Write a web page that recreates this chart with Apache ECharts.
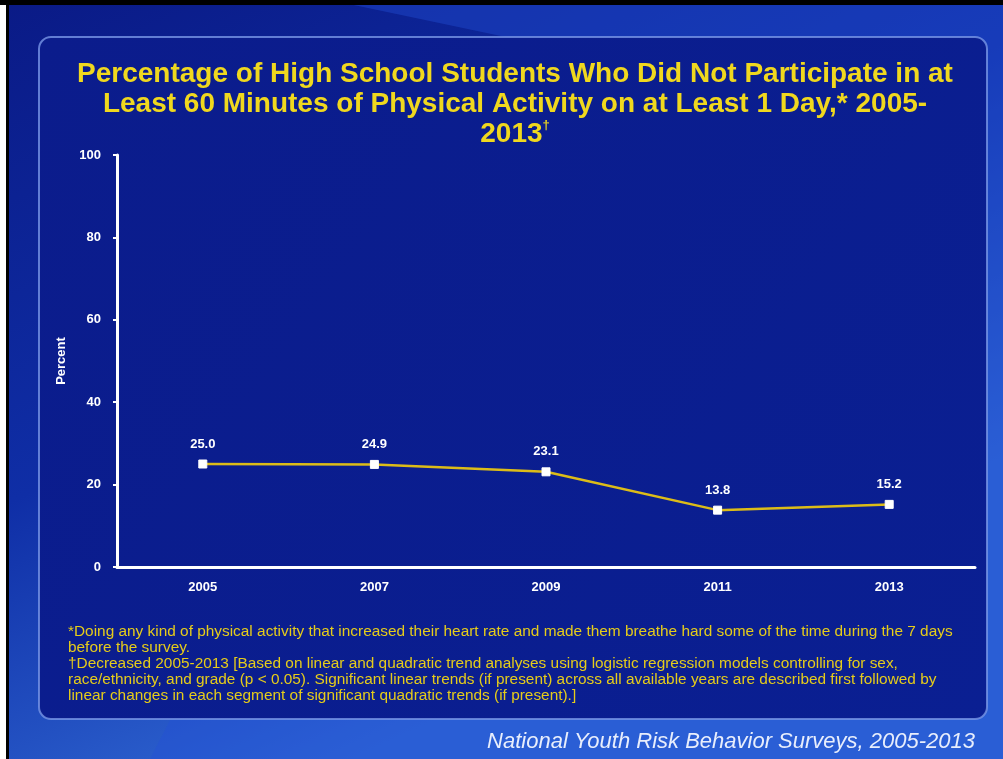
<!DOCTYPE html>
<html><head><meta charset="utf-8">
<script src="https://cdn.jsdelivr.net/npm/echarts@6/dist/echarts.min.js"></script>
<style>html,body{margin:0;padding:0;background:#fff}#c{width:1003px;height:759px}</style>
</head><body><div id="c"></div>
<script>
const years = ['2005', '2007', '2009', '2011', '2013'];
const percent = [25.0, 24.9, 23.1, 13.8, 15.2];
const yTicks = [0, 20, 40, 60, 80, 100];
const titleLines = ['Percentage of High School Students Who Did Not Participate in at', 'Least 60 Minutes of Physical Activity on at Least 1 Day,* 2005-'];
const titleLast = '2013';
const footnotes = [
  '*Doing any kind of physical activity that increased their heart rate and made them breathe hard some of the time during the 7 days',
  'before the survey.',
  '\u2020Decreased 2005-2013 [Based on linear and quadratic trend analyses using logistic regression models controlling for sex,',
  'race/ethnicity, and grade (p < 0.05). Significant linear trends (if present) across all available years are described first followed by',
  'linear changes in each segment of significant quadratic trends (if present).]'
];
const source = 'National Youth Risk Behavior Surveys, 2005-2013';

const chart = echarts.init(document.getElementById('c'));
const FONT = '"Liberation Sans", Arial, sans-serif';
const footY = [624, 640, 656, 672, 688];
const TITLE_C = '#f0d81e';
const graphics = [
  { type: 'rect', z: -10, shape: { x: 0, y: 0, width: 1003, height: 759 },
    style: { fill: new echarts.graphic.LinearGradient(0, 0, 0.35, 1, [
      { offset: 0, color: '#0a1a86' }, { offset: 0.55, color: '#0f2ea6' }, { offset: 1, color: '#3068d4' }]) } },
  { type: 'polygon', z: -9, shape: { points: [[330, 0], [1003, 0], [1003, 759], [150, 759], [520, 40]] },
    style: { fill: 'rgba(35,80,215,0.4)' } },
  { type: 'rect', z: -10, shape: { x: 0, y: 0, width: 6, height: 759 }, style: { fill: '#ffffff' } },
  { type: 'rect', z: -8, shape: { x: 6, y: 0, width: 3, height: 759 }, style: { fill: '#000000' } },
  { type: 'rect', z: -8, shape: { x: 0, y: 0, width: 1003, height: 5 }, style: { fill: '#000000' } },
  { type: 'rect', z: -7, shape: { x: 39, y: 37, width: 948, height: 682, r: 12 },
    style: { fill: new echarts.graphic.LinearGradient(0, 0, 1, 1, [
      { offset: 0, color: '#0b1c8c' }, { offset: 1, color: '#0a1f92' }]),
      stroke: 'rgba(120,150,230,0.8)', lineWidth: 2 } },
  { type: 'text', x: 515, y: 59, z: 5,
    style: { text: titleLines.join('\n') + '\n{n|' + titleLast + '}{s|\u2020}', fill: TITLE_C,
      font: 'bold 28px ' + FONT, align: 'center', verticalAlign: 'top', lineHeight: 30,
      rich: { n: { fill: TITLE_C, fontSize: 28, fontWeight: 'bold', fontFamily: FONT, lineHeight: 30 },
              s: { fill: TITLE_C, fontSize: 13, fontWeight: 'bold', fontFamily: FONT, verticalAlign: 'top', padding: [0, 0, 12, 0] } } } },
  { type: 'text', x: 975, y: 731, z: 5,
    style: { text: source, fill: '#e8eefc', font: 'italic 22px ' + FONT, align: 'right' } }
];
footnotes.forEach((t, i) => graphics.push({ type: 'text', x: 68, y: footY[i], z: 5,
  style: { text: t, fill: '#e6cc1a', font: '15.4px ' + FONT } }));

chart.setOption({
  animation: false,
  backgroundColor: 'transparent',
  graphic: graphics,
  grid: { left: 117, right: 28, top: 155, bottom: 192 },
  xAxis: {
    type: 'category', data: years, boundaryGap: true,
    axisLine: { lineStyle: { color: '#ffffff', width: 3 } },
    axisTick: { show: false },
    axisLabel: { color: '#ffffff', fontWeight: 'bold', fontSize: 13, fontFamily: FONT, margin: 14 }
  },
  yAxis: {
    type: 'value', min: 0, max: 100, interval: 20,
    name: 'Percent', nameLocation: 'middle', nameGap: 48,
    nameTextStyle: { color: '#ffffff', fontWeight: 'bold', fontSize: 13, fontFamily: FONT },
    axisLine: { show: true, lineStyle: { color: '#ffffff', width: 3 } },
    axisTick: { show: true, length: 4, lineStyle: { color: '#ffffff', width: 2 } },
    splitLine: { show: false },
    axisLabel: { color: '#ffffff', fontWeight: 'bold', fontSize: 13, fontFamily: FONT, margin: 16,
      formatter: v => yTicks.includes(v) ? String(v) : '' }
  },
  series: [{
    type: 'line', data: percent,
    symbol: 'rect', symbolSize: 8,
    itemStyle: { color: '#ffffff', borderColor: '#ffffff' },
    lineStyle: { color: '#dcbc18', width: 2.5 },
    label: { show: true, position: 'top', distance: 9, color: '#ffffff', fontWeight: 'bold',
      fontSize: 13, fontFamily: FONT, formatter: p => p.value.toFixed(1) }
  }]
});
</script></body></html>
